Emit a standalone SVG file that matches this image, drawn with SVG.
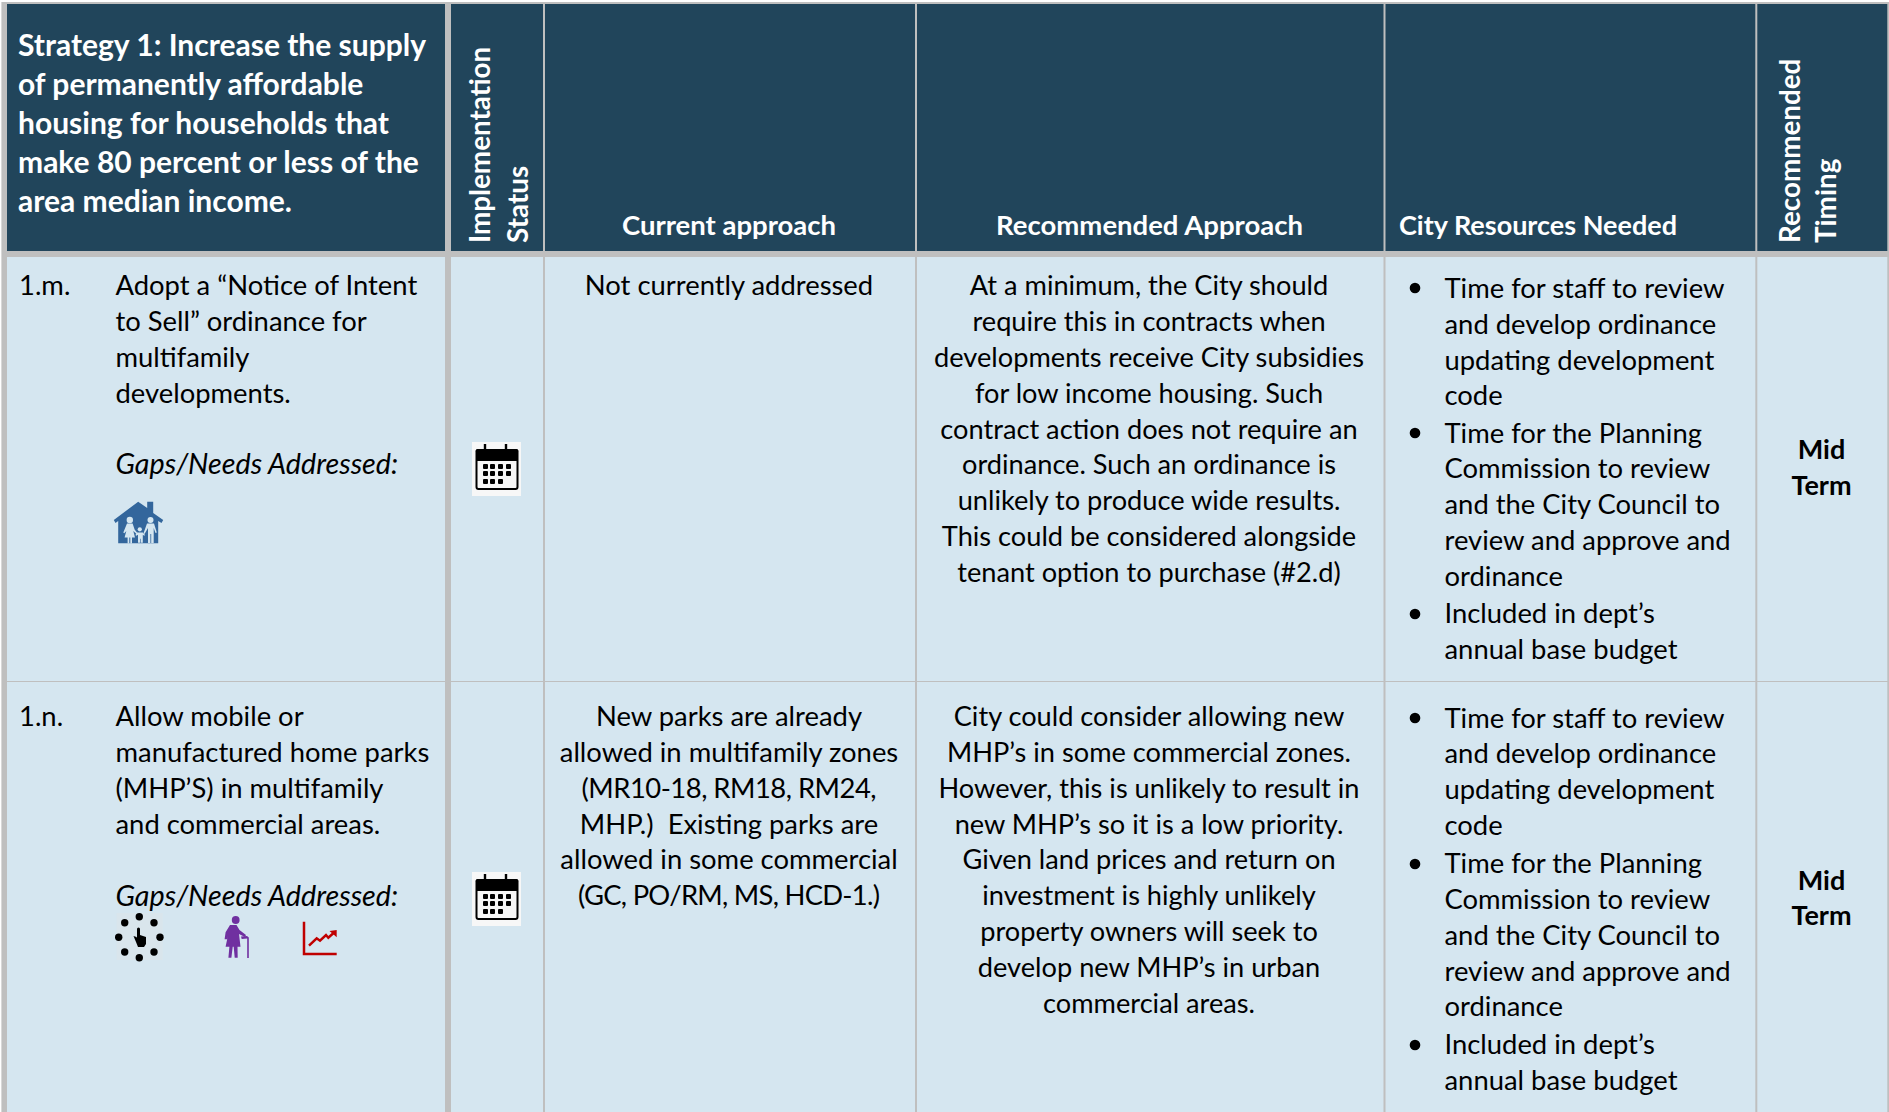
<svg xmlns="http://www.w3.org/2000/svg" width="1889" height="1112" viewBox="0 0 1889 1112">
<style>
text{font-family:Lato,"Open Sans","Liberation Sans",sans-serif}
.b{font-size:27.4px;fill:#000}
.r{font-size:27.2px}
.i{font-style:italic;font-size:28.7px}
.c{text-anchor:middle}
.h{font-size:27.5px;font-weight:700;fill:#fff}
.s{font-size:30px}
.v{font-size:27.8px}
.t{font-size:27px;font-weight:700;fill:#000;text-anchor:middle}
.gr{fill:#BFBFBF}
</style>
<defs>
<g id="cal">
<rect x="472" y="442" width="49" height="54" fill="#F7F7F7"/>
<rect x="476.500" y="450" width="41" height="39" rx="2" fill="#F7F7F7" stroke="#000" stroke-width="2"/>
<path d="M476 452a2 2 0 0 1 2-3H516a2 2 0 0 1 2 3V461H476Z" fill="#000"/>
<path d="M485 444v8M506 444v8" stroke="#000" stroke-width="2.400" fill="none"/>
<g fill="#000"><rect x="483" y="464" width="5" height="5" rx="1"/><rect x="490" y="464" width="5" height="5" rx="1"/><rect x="498" y="464" width="5" height="5" rx="1"/><rect x="506" y="464" width="5" height="5" rx="1"/>
<rect x="483" y="471" width="5" height="5" rx="1"/><rect x="490" y="471" width="5" height="5" rx="1"/><rect x="498" y="471" width="5" height="5" rx="1"/><rect x="506" y="471" width="5" height="5" rx="1"/>
<rect x="483" y="479" width="5" height="5" rx="1"/><rect x="490" y="479" width="5" height="5" rx="1"/><rect x="498" y="479" width="5" height="5" rx="1"/></g>
</g>
</defs>
<rect width="1889" height="1112" fill="#fff"/>
<g id="table-grid">
<rect x="1.400" y="2" width="1887.600" height="1110" class="gr"/>
<g fill="#21455B"><rect x="7" y="4" width="438" height="247"/><rect x="451" y="4" width="92" height="247"/><rect x="545" y="4" width="370" height="247"/><rect x="917" y="4" width="466.500" height="247"/><rect x="1385.500" y="4" width="369.800" height="247"/><rect x="1757.300" y="4" width="130" height="247"/></g>
<g fill="#D5E6F0"><rect x="7" y="257" width="438" height="424"/><rect x="451" y="257" width="92" height="424"/><rect x="545" y="257" width="370" height="424"/><rect x="917" y="257" width="466.500" height="424"/><rect x="1385.500" y="257" width="369.800" height="424"/><rect x="1757.300" y="257" width="130" height="424"/>
<rect x="7" y="682" width="438" height="430"/><rect x="451" y="682" width="92" height="430"/><rect x="545" y="682" width="370" height="430"/><rect x="917" y="682" width="466.500" height="430"/><rect x="1385.500" y="682" width="369.800" height="430"/><rect x="1757.300" y="682" width="130" height="430"/></g>
</g>
<g id="header">
<text class="h s" x="18" y="56">Strategy 1: Increase the supply</text>
<text class="h s" x="18" y="95">of permanently affordable</text>
<text class="h s" x="18" y="134">housing for households that</text>
<text class="h s" x="18" y="173">make 80 percent or less of the</text>
<text class="h s" x="18" y="212">area median income.</text>
<text class="h v" transform="translate(490 243) rotate(-90)">Implementation</text>
<text class="h v" transform="translate(527.500 243) rotate(-90)">Status</text>
<text class="h c" x="729" y="235">Current approach</text>
<text class="h c" x="1149.500" y="235">Recommended Approach</text>
<text class="h" x="1399" y="235" style="font-size:27px">City Resources Needed</text>
<text class="h v" transform="translate(1800 243) rotate(-90)">Recommended</text>
<text class="h v" transform="translate(1835.700 243) rotate(-90)">Timing</text>
</g>
<g id="row-1m">
<text class="b" x="19" y="295">1.m.</text>
<text class="b" x="115.500" y="295">Adopt a “Notice of Intent</text>
<text class="b" x="115.500" y="331">to Sell” ordinance for</text>
<text class="b" x="115.500" y="367">multifamily</text>
<text class="b" x="115.500" y="403">developments.</text>
<text class="b i" x="115.500" y="473.500">Gaps/Needs Addressed:</text>
<g id="icon-house" transform="translate(1.500 0)">
<path d="M112.300 520 136.700 501.700 145.700 508V501.700H151.700V513L161.700 520 160 523 156.700 521V543.300H116.700V521L114 523Z" fill="#33669C"/>
<g fill="#D5E6F0">
<circle cx="128.300" cy="520" r="3.200"/>
<path d="M125.500 523.500h5.600l2 6 3 3.800-1 .7-3.300-3 1.700 6.500h-3v6h-1.700v-6h-1v6h-1.700v-6h-3l1.700-6.500-2 2.200-1-.8Z"/>
<circle cx="149" cy="520" r="3"/>
<path d="M145.500 523.500h7l2.800 9-1.300.5-1.800-5v15h-2.500v-9h-.8v9h-2.400v-15l-3.500 6-1-.8Z"/>
<circle cx="138.300" cy="529.300" r="2.100"/>
<path d="M135.300 532.500h6l2.200 2.500-.8.8-1.400-1v8h-2.100v-4h-.6v4h-2.100v-8l-1.700 1-.8-.8Z"/>
</g>
</g>
<use href="#cal"/>
<text class="b c" x="729" y="295">Not currently addressed</text>
<text class="b r c" x="1149" y="295">At a minimum, the City should</text>
<text class="b r c" x="1149" y="331">require this in contracts when</text>
<text class="b r c" x="1149" y="367">developments receive City subsidies</text>
<text class="b r c" x="1149" y="403">for low income housing. Such</text>
<text class="b r c" x="1149" y="439">contract action does not require an</text>
<text class="b r c" x="1149" y="474">ordinance. Such an ordinance is</text>
<text class="b r c" x="1149" y="510">unlikely to produce wide results.</text>
<text class="b r c" x="1149" y="546">This could be considered alongside</text>
<text class="b r c" x="1149" y="582">tenant option to purchase (#2.d)</text>
<circle cx="1415" cy="288" r="5.300"/><circle cx="1415" cy="433" r="5.300"/><circle cx="1415" cy="614" r="5.300"/>
<text class="b" x="1444.500" y="297.500">Time for staff to review</text>
<text class="b" x="1444.500" y="333.500">and develop ordinance</text>
<text class="b" x="1444.500" y="369.500">updating development</text>
<text class="b" x="1444.500" y="405">code</text>
<text class="b" x="1444.500" y="442.500">Time for the Planning</text>
<text class="b" x="1444.500" y="478">Commission to review</text>
<text class="b" x="1444.500" y="513.500">and the City Council to</text>
<text class="b" x="1444.500" y="549.500">review and approve and</text>
<text class="b" x="1444.500" y="585.500">ordinance</text>
<text class="b" x="1444.500" y="623">Included in dept’s</text>
<text class="b" x="1444.500" y="659">annual base budget</text>
<text class="t" x="1821.500" y="459">Mid</text>
<text class="t" x="1821.500" y="495">Term</text>
</g>
<g id="row-1n">
<text class="b" x="19" y="726">1.n.</text>
<text class="b" x="115.500" y="726">Allow mobile or</text>
<text class="b" x="115.500" y="762">manufactured home parks</text>
<text class="b" x="115.500" y="798">(MHP’S) in multifamily</text>
<text class="b" x="115.500" y="834">and commercial areas.</text>
<text class="b i" x="115.500" y="905.500">Gaps/Needs Addressed:</text>
<g id="icon-click">
<rect x="116.700" y="913" width="46" height="47" fill="#D9E5EC"/>
<g fill="#000"><circle cx="139.300" cy="916.700" r="3.700"/><circle cx="154" cy="922.700" r="3.700"/><circle cx="160" cy="937.300" r="3.700"/><circle cx="154" cy="952" r="3.700"/><circle cx="139.300" cy="957.700" r="3.700"/><circle cx="124.700" cy="952" r="3.700"/><circle cx="118.700" cy="937.300" r="3.700"/><circle cx="124.700" cy="922.700" r="3.700"/>
<path d="M137 929a1.500 1.500 0 0 1 3 0V935l6 2v7l-2 3H138l-2-5-2.500-6 3 1 .5 1Z"/></g>
</g>
<g id="icon-elder" fill="#7030A0">
<circle cx="235.700" cy="920" r="3.900"/>
<path d="M230 925h6.500l3 5 6.500 5-1 2-6-3 1.500 12.700h-3l.2 11h-3l-1-11h-1l-1.300 11h-3l1-11h-3.800l2.300-11-.8 3.500h-2.500l1-7Z"/>
<path d="M241 936.500l6-.5 1.800 1.500V958h-1.600V938.500l-5.500.5Z"/>
</g>
<g id="icon-chart" fill="none" stroke="#C00000">
<path d="M304 921.700V954H336.700" stroke-width="2.500"/>
<path d="M309 945.700l7.700-7.400 3.300 2.400 6-5.700 2.300 2.700 5-4.400" stroke-width="2.500"/>
<path d="M329.500 931l7.200-1v7.200Z" fill="#C00000" stroke="none"/>
</g>
<use href="#cal" y="430"/>
<text class="b c" x="729" y="726">New parks are already</text>
<text class="b c" x="729" y="762">allowed in multifamily zones</text>
<text class="b c" x="729" y="798" textLength="295" lengthAdjust="spacing">(MR10-18, RM18, RM24,</text>
<text class="b c" x="729" y="834" style="white-space:pre">MHP.)  Existing parks are</text>
<text class="b c" x="729" y="869">allowed in some commercial</text>
<text class="b c" x="729" y="905" textLength="302" lengthAdjust="spacing">(GC, PO/RM, MS, HCD-1.)</text>
<text class="b r c" x="1149" y="726">City could consider allowing new</text>
<text class="b r c" x="1149" y="762">MHP’s in some commercial zones.</text>
<text class="b r c" x="1149" y="798">However, this is unlikely to result in</text>
<text class="b r c" x="1149" y="834">new MHP’s so it is a low priority.</text>
<text class="b r c" x="1149" y="869">Given land prices and return on</text>
<text class="b r c" x="1149" y="905">investment is highly unlikely</text>
<text class="b r c" x="1149" y="941">property owners will seek to</text>
<text class="b r c" x="1149" y="977">develop new MHP’s in urban</text>
<text class="b r c" x="1149" y="1013">commercial areas.</text>
<circle cx="1415" cy="718" r="5.300"/><circle cx="1415" cy="864" r="5.300"/><circle cx="1415" cy="1045" r="5.300"/>
<text class="b" x="1444.500" y="727.500">Time for staff to review</text>
<text class="b" x="1444.500" y="763">and develop ordinance</text>
<text class="b" x="1444.500" y="799">updating development</text>
<text class="b" x="1444.500" y="835">code</text>
<text class="b" x="1444.500" y="873">Time for the Planning</text>
<text class="b" x="1444.500" y="908.500">Commission to review</text>
<text class="b" x="1444.500" y="944.500">and the City Council to</text>
<text class="b" x="1444.500" y="980.500">review and approve and</text>
<text class="b" x="1444.500" y="1016">ordinance</text>
<text class="b" x="1444.500" y="1054">Included in dept’s</text>
<text class="b" x="1444.500" y="1090">annual base budget</text>
<text class="t" x="1821.500" y="890">Mid</text>
<text class="t" x="1821.500" y="925">Term</text>
</g>
</svg>
